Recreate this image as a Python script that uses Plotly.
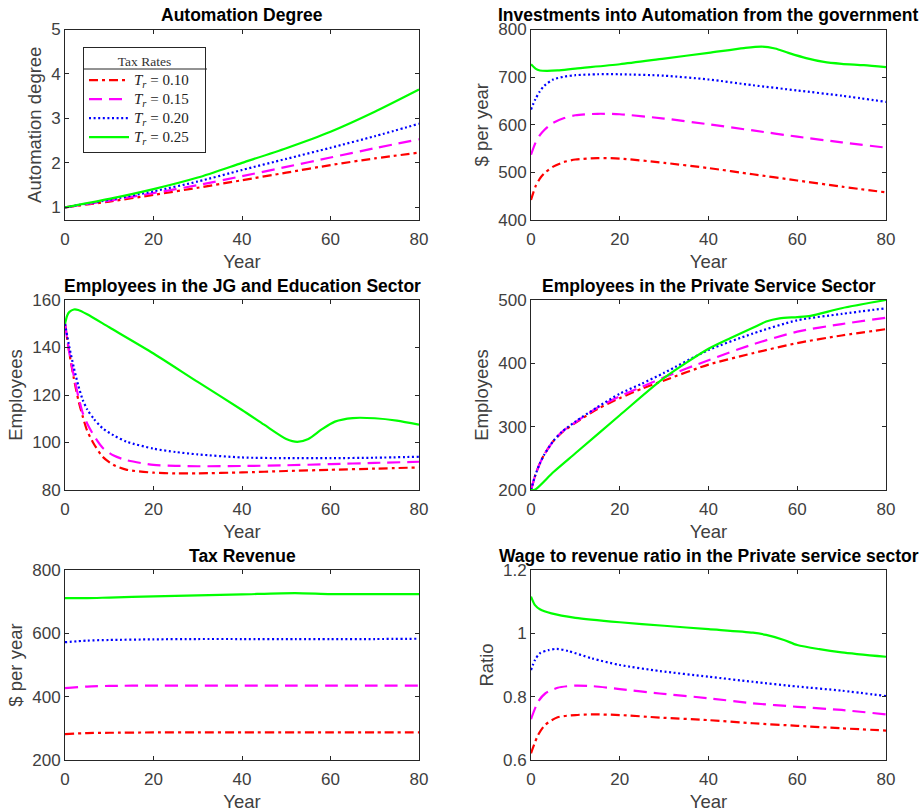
import plotly.graph_objects as go

# ---------------- data ----------------
rates = ["0.10", "0.15", "0.20", "0.25"]
colors = ["#FF0000", "#FF00FF", "#0000FF", "#00FF00"]
dashes = ["9px,4px,3px,4px", "13px,7px", "2px,2.6px", "solid"]

# Panel 1: Automation degree
auto_x = [0, 10, 20, 30, 40, 50, 60, 70, 80]
auto_red = [1, 1.13, 1.28, 1.44, 1.61, 1.78, 1.95, 2.10, 2.23]
auto_mag = [1, 1.15, 1.32, 1.50, 1.70, 1.91, 2.12, 2.33, 2.53]
auto_blue = [1, 1.17, 1.36, 1.58, 1.84, 2.09, 2.34, 2.60, 2.88]
auto_green = [1, 1.19, 1.41, 1.67, 2.00, 2.33, 2.70, 3.15, 3.65]

# Panel 2: Investments into automation
inv_x_low = [0, 1, 2, 3, 5, 7.5, 10, 15, 20, 30, 40, 50, 60, 70, 80]
inv_red = [442, 470, 487, 498, 512, 522, 527, 530, 529, 520, 509, 496, 483, 470, 458]
inv_mag = [537, 562, 578, 589, 604, 614, 620, 623, 622, 613, 601, 588, 575, 563, 552]
inv_x_blue = [0, 1, 2, 3, 5, 7.5, 10, 15, 20, 30, 40, 50, 60, 70, 80]
inv_blue = [632, 654, 670, 682, 695, 701, 704, 706, 706, 703, 695, 683, 672, 661, 648]
inv_x_green = [0, 1, 2, 3.5, 6, 10, 20, 30, 40, 48, 52, 55, 58, 62, 66, 70, 75, 80]
inv_green = [727, 718, 714, 713, 714, 718, 727, 739, 751, 761, 764, 760, 751, 740, 732, 728, 725, 721]

# Panel 3: Employees in the JG and Education sector
jg_x = [0, 1, 2, 3, 4, 5, 6.5, 8.5, 11, 14, 20, 25, 30, 40, 50, 60, 70, 80]
jg_red = [150, 137.5, 127, 118, 111, 105, 99.5, 94, 90.5, 88.5, 87.3, 87, 87, 87.4, 88, 88.5, 89, 89.5]
jg_mag = [150, 137.5, 128, 119.5, 112.5, 108, 103, 97.8, 94.5, 92.5, 90.6, 90.2, 90, 90.1, 90.4, 90.9, 91.4, 91.9]
jg_blue = [150, 140, 131.5, 124, 118, 114, 110, 106, 103, 100.3, 97.4, 96, 95, 93.7, 93.4, 93.4, 93.6, 94]
jg_x_green = [0, 0.5, 1, 2, 3, 5, 10, 20, 30, 40, 45, 50, 52.5, 55, 58, 61, 65, 70, 75, 80]
jg_green = [150, 153.5, 155, 156, 155.8, 154, 148.5, 137.5, 125.5, 113.7, 107.5, 101.5, 100.3,
            101.5, 105.5, 108.8, 110.3, 110.2, 109.2, 107.5]

# Panel 4: Employees in the private service sector
ps_x = [0, 1, 2, 3, 5, 7, 10, 15, 20, 25, 30, 40, 50, 60, 70, 80]
ps_red = [200, 224, 242, 256, 277, 291, 306, 328, 345, 360, 373, 398, 416, 432, 444, 454]
ps_mag = [200, 224, 242, 256, 277, 292, 307, 330, 348, 363, 378, 405, 430, 450, 462, 472]
ps_blue = [200, 224, 242, 256, 277, 292, 308, 331, 352, 368, 385, 421, 447, 468, 478, 487]
ps_x_green = [0, 1, 5, 10, 20, 30, 40, 45, 50, 53, 56, 60, 63, 70, 80]
ps_green = [200, 201, 228, 258, 318, 377, 423, 440, 456, 466, 471, 473, 475, 487, 500]

# Panel 5: Tax revenue
tax_x = [0, 5, 10, 20, 30, 40, 52, 60, 70, 80]
tax_red = [282, 285, 286, 287, 287, 287, 287, 287, 287, 287]
tax_mag = [427, 432, 434, 435, 435, 435, 435, 435, 435, 435]
tax_blue = [572, 577, 579, 581, 582, 582, 582, 582, 582, 583]
tax_green = [711, 711, 713, 717, 720, 723, 727, 724, 724, 724]

# Panel 6: Wage to revenue ratio
wr_x = [0, 1.6, 3.2, 6, 10, 14, 20, 29, 40, 50, 60, 70, 80]
wr_red = [0.621, 0.679, 0.711, 0.735, 0.742, 0.744, 0.742, 0.734, 0.726, 0.716, 0.708, 0.700, 0.693]
wr_mag = [0.729, 0.784, 0.810, 0.828, 0.835, 0.833, 0.824, 0.810, 0.795, 0.779, 0.768, 0.758, 0.744]
wr_x_blue = [0, 0.9, 2, 3.9, 5.8, 8.4, 13.7, 20, 29, 40, 50, 60, 70, 80]
wr_blue = [0.884, 0.916, 0.937, 0.947, 0.951, 0.944, 0.921, 0.900, 0.881, 0.863, 0.847, 0.832, 0.819, 0.802]
wr_x_green = [0, 0.9, 2, 4.6, 10, 20, 30, 40, 50, 53, 57, 60, 65, 70, 80]
wr_green = [1.116, 1.089, 1.076, 1.063, 1.049, 1.035, 1.024, 1.013, 1.002, 0.995, 0.979, 0.963, 0.950, 0.940, 0.926]

panels = [
    dict(title="Automation Degree", ylabel="Automation degree",
         series=[(auto_x, auto_red), (auto_x, auto_mag), (auto_x, auto_blue), (auto_x, auto_green)],
         yrange=[0.715, 5], ytick=[1, 2, 3, 4, 5], yticktext=["1", "2", "3", "4", "5"]),
    dict(title="Investments into Automation from the government", ylabel="$ per year",
         series=[(inv_x_low, inv_red), (inv_x_low, inv_mag), (inv_x_blue, inv_blue), (inv_x_green, inv_green)],
         yrange=[400, 800], ytick=[400, 500, 600, 700, 800], yticktext=["400", "500", "600", "700", "800"]),
    dict(title="Employees in the JG and Education Sector", ylabel="Employees",
         series=[(jg_x, jg_red), (jg_x, jg_mag), (jg_x, jg_blue), (jg_x_green, jg_green)],
         yrange=[80, 160], ytick=[80, 100, 120, 140, 160], yticktext=["80", "100", "120", "140", "160"]),
    dict(title="Employees in the Private Service Sector", ylabel="Employees",
         series=[(ps_x, ps_red), (ps_x, ps_mag), (ps_x, ps_blue), (ps_x_green, ps_green)],
         yrange=[200, 500], ytick=[200, 300, 400, 500], yticktext=["200", "300", "400", "500"]),
    dict(title="Tax Revenue", ylabel="$ per year",
         series=[(tax_x, tax_red), (tax_x, tax_mag), (tax_x, tax_blue), (tax_x, tax_green)],
         yrange=[200, 800], ytick=[200, 400, 600, 800], yticktext=["200", "400", "600", "800"]),
    dict(title="Wage to revenue ratio in the Private service sector", ylabel="Ratio",
         series=[(wr_x, wr_red), (wr_x, wr_mag), (wr_x_blue, wr_blue), (wr_x_green, wr_green)],
         yrange=[0.6, 1.2], ytick=[0.6, 0.8, 1.0, 1.2], yticktext=["0.6", "0.8", "1", "1.2"]),
]

names = ["<span style='font-size:15px'><i>T<sub>r</sub></i> = " + r + "&nbsp;&nbsp;&nbsp;</span>" for r in rates]

W, H = 924, 812
xdoms = [[65 / W, 419 / W], [531 / W, 886 / W]]
ydoms = [[1 - 220 / H, 1 - 29.5 / H], [1 - 490 / H, 1 - 300 / H], [1 - 760 / H, 1 - 570 / H]]

fig = go.Figure()
AX = "#262626"
TICKC = "#404040"
FONT = "Liberation Sans, Arial, sans-serif"
SERIF = "Liberation Serif, DejaVu Serif, serif"

annotations = []
for i, p in enumerate(panels):
    r, c = divmod(i, 2)
    n = i + 1
    xa = "x" if n == 1 else f"x{n}"
    ya = "y" if n == 1 else f"y{n}"
    for k, (xs, ys) in enumerate(p["series"]):
        fig.add_trace(go.Scatter(
            x=xs, y=ys, mode="lines", name=names[k],
            line=dict(color=colors[k], width=2.2, dash=dashes[k], shape="spline", smoothing=0.7),
            xaxis=xa, yaxis=ya, showlegend=(i == 0), legendrank=k))
    axkw = dict(showline=True, mirror="ticks", linecolor=AX, linewidth=1, automargin=False,
                ticks="inside", ticklen=4, tickcolor=AX, showgrid=False, zeroline=False,
                tickfont=dict(family=FONT, size=17, color=TICKC))
    fig.layout[("xaxis" if n == 1 else f"xaxis{n}")] = dict(
        domain=xdoms[c], anchor=ya, range=[0, 80], tickvals=[0, 20, 40, 60, 80],
        ticklabelstandoff=4,
        title=dict(text="Year", font=dict(family=FONT, size=18.5, color=TICKC), standoff=6), **axkw)
    fig.layout[("yaxis" if n == 1 else f"yaxis{n}")] = dict(
        domain=ydoms[r], anchor=xa, range=p["yrange"], tickvals=p["ytick"], ticktext=p["yticktext"],
        title=dict(text=p["ylabel"], font=dict(family=FONT, size=18.5, color=TICKC), standoff=4), **axkw)
    annotations.append(dict(
        text="<b>" + p["title"] + "</b>", xref="paper", yref="paper",
        x=(xdoms[c][0] + xdoms[c][1]) / 2, y=ydoms[r][1], xanchor="center", yanchor="bottom",
        yshift=2, showarrow=False, font=dict(family=FONT, size=17.5, color="black")))

fig.update_layout(
    width=W, height=H, margin=dict(l=0, r=0, t=0, b=0, autoexpand=False),
    paper_bgcolor="white", plot_bgcolor="white",
    annotations=annotations,
    legend=dict(x=83 / W, y=1 - 47 / H, xanchor="left", yanchor="top",
                bgcolor="rgba(255,255,255,0)", bordercolor=AX, borderwidth=1,
                font=dict(family=SERIF, size=12, color="#222"),
                title=dict(text="Tax Rates", side="top center",
                           font=dict(family=SERIF, size=13.5, color="#333")),
                tracegroupgap=0, itemwidth=40, traceorder="normal"),
)
fig.add_shape(type="line", xref="paper", yref="paper", layer="above",
              x0=83 / W, x1=207 / W, y0=1 - 69 / H, y1=1 - 69 / H,
              line=dict(color=AX, width=1))

fig.write_html("out.html", config={"displayModeBar": False},
               post_script="document.body.style.margin='0';document.body.style.overflow='hidden';")
